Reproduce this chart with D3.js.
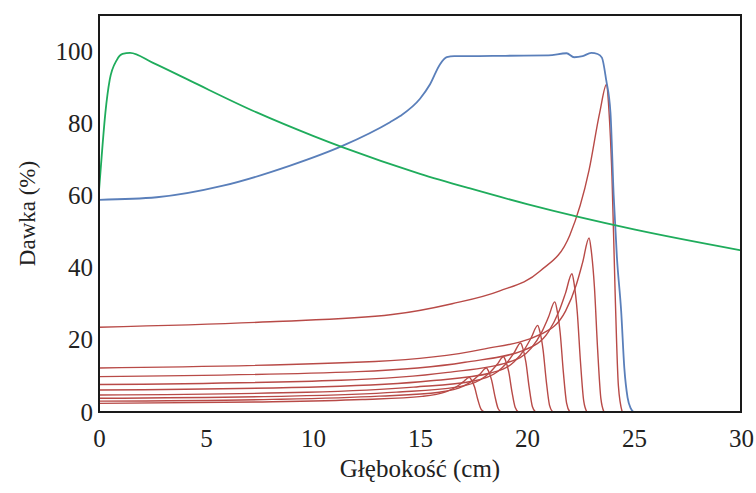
<!DOCTYPE html>
<html lang="pl">
	<head>
		<meta charset="utf-8">
		<title>Dawka vs głębokość</title>
		<script src="https://cdn.jsdelivr.net/npm/d3@7"></script>
		<style>
			body { margin: 0; background: #fff; }
			text { font-family: "Liberation Serif", "Times New Roman", Times, serif; fill: #222; }
		</style>
	</head>
	<body>
		<script>

			//Width and height
			var w = 756;
			var h = 493;
			var margin = {top: 15, right: 15, bottom: 81, left: 99};

			//tick labels
			var xTicks = [0, 5, 10, 15, 20, 25, 30];
			var yTicks = [0, 20, 40, 60, 80, 100];

			//photon beam (green)
			var photonDepth = [0, 0.12, 0.3, 0.5, 0.83, 1.1, 1.45, 2.5, 4.25, 7.37, 10, 11.4, 15, 17.3, 20, 25, 30];
			var photonDose  = [61.3, 70.5, 83, 92, 97.5, 99.2, 99.5, 96.8, 91.8, 83, 76.5, 73.3, 66.0, 62.0, 57.6, 50.6, 44.8];

			//spread out Bragg peak (blue)
			var sobpDepth = [0, 2.7, 5.8, 8.9, 11.4, 13.6, 14.07, 15.0, 15.47, 15.93, 16.25, 16.6, 17.3, 19, 21, 21.85, 22.2, 22.6, 23.0, 23.3, 23.5, 23.7, 23.9, 24.05, 24.2, 24.4, 24.55, 24.7, 24.85, 24.97];
			var sobpDose  = [58.8, 59.5, 62.7, 68.2, 73.8, 80.3, 82.0, 86.8, 90.8, 96.3, 98.3, 98.6, 98.6, 98.7, 98.8, 99.4, 98.3, 98.6, 99.5, 99.2, 98.2, 92, 83, 60, 43, 28, 12, 4, 1, 0];

			//pristine Bragg peaks (red)
			var braggDepths = [
				[0, 7.3, 12.3, 15.1, 16.2, 16.7, 17.0, 17.3, 17.4, 17.55, 17.7, 17.85, 18.0],
				[0, 8.1, 13.1, 15.9, 17.0, 17.5, 17.8, 18.1, 18.2, 18.35, 18.5, 18.65, 18.8],
				[0, 8.9, 13.9, 16.7, 17.8, 18.3, 18.6, 18.9, 19.0, 19.15, 19.3, 19.45, 19.6],
				[0, 9.7, 14.7, 17.5, 18.6, 19.1, 19.4, 19.7, 19.8, 19.95, 20.1, 20.25, 20.4],
				[0, 10.5, 15.5, 18.3, 19.4, 19.9, 20.2, 20.5, 20.6, 20.75, 20.9, 21.05, 21.2],
				[0, 11.3, 16.3, 19.1, 20.2, 20.7, 21.0, 21.3, 21.4, 21.55, 21.7, 21.85, 22.0],
				[0, 12.1, 17.1, 19.9, 21.0, 21.5, 21.8, 22.1, 22.2, 22.35, 22.5, 22.65, 22.8],
				[0, 12.9, 17.9, 20.7, 21.8, 22.3, 22.6, 22.9, 23.0, 23.15, 23.3, 23.45, 23.6],
				[0, 8, 13.7, 16.5, 18.7, 20.6, 22.0, 22.9, 23.4, 23.72, 23.82, 23.97, 24.12, 24.27, 24.45]
			];
			var braggDoses = [
				[2.4, 2.77, 3.46, 4.32, 5.57, 7.0, 8.26, 9.6, 8.93, 6.91, 3.46, 0.77, 0],
				[3.0, 3.49, 4.39, 5.49, 7.08, 8.91, 10.49, 12.2, 11.35, 8.78, 4.39, 0.98, 0],
				[3.8, 4.4, 5.51, 6.89, 8.87, 11.17, 13.16, 15.3, 14.23, 11.02, 5.51, 1.22, 0],
				[4.7, 5.46, 6.88, 8.6, 11.08, 13.94, 16.43, 19.1, 17.76, 13.75, 6.88, 1.53, 0],
				[6.1, 6.99, 8.64, 10.8, 13.92, 17.52, 20.64, 24.0, 22.32, 17.28, 8.64, 1.92, 0],
				[7.6, 8.78, 10.98, 13.73, 17.69, 22.27, 26.23, 30.5, 28.37, 21.96, 10.98, 2.44, 0],
				[9.8, 11.2, 13.79, 17.24, 22.21, 27.96, 32.94, 38.3, 35.62, 27.58, 13.79, 3.06, 0],
				[12.2, 14.0, 17.35, 21.69, 27.96, 35.19, 41.45, 48.2, 44.83, 34.7, 17.35, 3.86, 0],
				[23.5, 25, 27, 30, 33.5, 39, 49, 67, 83, 90.8, 84.4, 65.4, 32.7, 7.3, 0]
			];

			//Create SVG element
			var svg = d3.select("body")
						.append("svg")
						.attr("width", w)
						.attr("height", h);

			var pw = w - margin.left - margin.right;
			var ph = h - margin.top - margin.bottom;

			var x = d3.scaleLinear().domain([0, 30]).range([margin.left, margin.left + pw]);
			var y = d3.scaleLinear().domain([0, 110]).range([margin.top + ph, margin.top]);

			var line = d3.line()
				.x(function(d) { return x(d[0]); })
				.y(function(d) { return y(d[1]); })
				.curve(d3.curveMonotoneX);

			function pairs(xs, ys) {
				return xs.map(function(v, i) { return [v, ys[i]]; });
			}

			var plot = svg.append("g");

			//red curves
			braggDepths.forEach(function(xs, i) {
				plot.append("path")
					.datum(pairs(xs, braggDoses[i]))
					.attr("d", line)
					.attr("fill", "none")
					.attr("stroke", "#b84a47")
					.attr("stroke-width", 1.4);
			});

			//blue curve
			plot.append("path")
				.datum(pairs(sobpDepth, sobpDose))
				.attr("d", line)
				.attr("fill", "none")
				.attr("stroke", "#5a7fba")
				.attr("stroke-width", 1.8);

			//green curve
			plot.append("path")
				.datum(pairs(photonDepth, photonDose))
				.attr("d", line)
				.attr("fill", "none")
				.attr("stroke", "#1fac5c")
				.attr("stroke-width", 1.8);

			//frame
			svg.append("rect")
				.attr("x", margin.left)
				.attr("y", margin.top)
				.attr("width", pw)
				.attr("height", ph)
				.attr("fill", "none")
				.attr("stroke", "#1a1a1a")
				.attr("stroke-width", 2);

			//axes, labels only (no tick marks)
			var xAxis = d3.axisBottom(x).tickValues(xTicks).tickSize(0);
			var yAxis = d3.axisLeft(y).tickValues(yTicks).tickSize(0).tickPadding(6);

			var gx = svg.append("g")
				.attr("transform", "translate(0," + (margin.top + ph) + ")")
				.call(xAxis);
			var gy = svg.append("g")
				.attr("transform", "translate(" + margin.left + ",0)")
				.call(yAxis);

			svg.selectAll(".domain").remove();
			svg.selectAll(".tick text")
				.attr("font-size", "25px")
				.attr("fill", "#222");
			gx.selectAll(".tick text").attr("y", 35).attr("dy", 0);

			//axis titles
			svg.append("text")
				.text("Głębokość (cm)")
				.attr("text-anchor", "middle")
				.attr("font-size", "25px")
				.attr("x", margin.left + pw / 2)
				.attr("y", 477);

			svg.append("text")
				.text("Dawka (%)")
				.attr("text-anchor", "middle")
				.attr("font-size", "23px")
				.attr("transform", "translate(35," + (margin.top + ph / 2) + ") rotate(-90)");

		</script>
	</body>
</html>
